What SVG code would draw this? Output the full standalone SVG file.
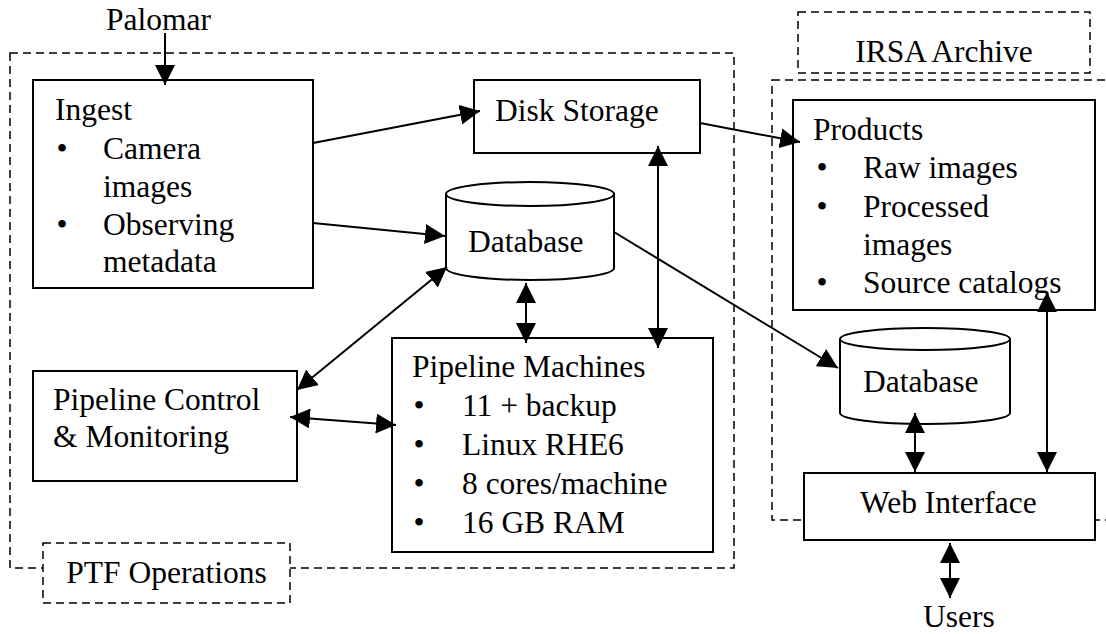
<svg xmlns="http://www.w3.org/2000/svg" width="1106" height="634" viewBox="0 0 1106 634">
<defs>
<marker id="ah" viewBox="0 0 20 20" markerWidth="20" markerHeight="20" refX="20" refY="10" markerUnits="userSpaceOnUse" orient="auto-start-reverse">
<path d="M0,0 L20,10 L0,20 z" fill="#000"/>
</marker>
</defs>
<rect width="1106" height="634" fill="#fff"/>

<g id="boundaries" fill="none" stroke="#000" stroke-width="1.5" stroke-dasharray="8 5">
<rect id="ptf-boundary" x="10" y="53" width="724" height="515"/>
<rect id="irsa-boundary" x="772" y="80" width="360" height="440"/>
</g>

<g id="connectors" fill="none" stroke="#000" stroke-width="2">
<line x1="165" y1="33" x2="165" y2="85" marker-end="url(#ah)"/>
<line x1="313" y1="143" x2="480" y2="111" marker-end="url(#ah)"/>
<line x1="313" y1="223" x2="445" y2="236" marker-end="url(#ah)"/>
<line x1="700" y1="123" x2="800" y2="142" marker-end="url(#ah)"/>
<line x1="614" y1="232" x2="838" y2="368" marker-end="url(#ah)"/>
<line x1="658" y1="146" x2="658" y2="348" marker-start="url(#ah)" marker-end="url(#ah)"/>
<line x1="526" y1="283" x2="526" y2="343" marker-start="url(#ah)" marker-end="url(#ah)"/>
<line x1="447" y1="267" x2="297" y2="390" marker-start="url(#ah)" marker-end="url(#ah)"/>
<line x1="290" y1="417" x2="396" y2="425" marker-start="url(#ah)" marker-end="url(#ah)"/>
<line x1="915" y1="413" x2="915" y2="472" marker-start="url(#ah)" marker-end="url(#ah)"/>
<line x1="1047" y1="292" x2="1047" y2="472" marker-start="url(#ah)" marker-end="url(#ah)"/>
<line x1="950" y1="543" x2="950" y2="598" marker-start="url(#ah)" marker-end="url(#ah)"/>
</g>

<g id="palomar">
<text x="106" y="30" font-family="Liberation Serif" font-size="31.5">Palomar</text>
</g>

<g id="ingest">
<rect x="33" y="80" width="280" height="208" fill="none" stroke="#000" stroke-width="2"/>
<text x="55" y="120" font-family="Liberation Serif" font-size="31.5">Ingest</text>
<text x="62" y="159" font-family="Liberation Serif" font-size="31.5" text-anchor="middle">•</text>
<text x="103" y="159" font-family="Liberation Serif" font-size="31.5">Camera</text>
<text x="103" y="197" font-family="Liberation Serif" font-size="31.5">images</text>
<text x="62" y="235" font-family="Liberation Serif" font-size="31.5" text-anchor="middle">•</text>
<text x="103" y="235" font-family="Liberation Serif" font-size="31.5">Observing</text>
<text x="103" y="272" font-family="Liberation Serif" font-size="31.5">metadata</text>
</g>

<g id="disk-storage">
<rect x="474" y="80" width="226" height="73" fill="none" stroke="#000" stroke-width="2"/>
<text x="495" y="121" font-family="Liberation Serif" font-size="31.5">Disk Storage</text>
</g>

<g id="ptf-database" fill="none" stroke="#000" stroke-width="2">
<path d="M446,194 L446,268 A84,12 0 0 0 614,268 L614,194 A84,12 0 0 0 446,194 Z"/>
<path d="M446,194 A84,12 0 0 0 614,194"/>
<text x="468" y="252" font-family="Liberation Serif" font-size="31.5" fill="#000" stroke="none">Database</text>
</g>

<g id="pipeline-control">
<rect x="33" y="371" width="264" height="110" fill="none" stroke="#000" stroke-width="2"/>
<text x="53" y="410" font-family="Liberation Serif" font-size="31.5">Pipeline Control</text>
<text x="53" y="447" font-family="Liberation Serif" font-size="31.5">&amp; Monitoring</text>
</g>

<g id="pipeline-machines">
<rect x="392" y="338" width="321" height="214" fill="none" stroke="#000" stroke-width="2"/>
<text x="412" y="377" font-family="Liberation Serif" font-size="31.5">Pipeline Machines</text>
<text x="419" y="416" font-family="Liberation Serif" font-size="31.5" text-anchor="middle">•</text>
<text x="462" y="416" font-family="Liberation Serif" font-size="31.5">11 + backup</text>
<text x="419" y="455" font-family="Liberation Serif" font-size="31.5" text-anchor="middle">•</text>
<text x="462" y="455" font-family="Liberation Serif" font-size="31.5">Linux RHE6</text>
<text x="419" y="494" font-family="Liberation Serif" font-size="31.5" text-anchor="middle">•</text>
<text x="462" y="494" font-family="Liberation Serif" font-size="31.5">8 cores/machine</text>
<text x="419" y="533" font-family="Liberation Serif" font-size="31.5" text-anchor="middle">•</text>
<text x="462" y="533" font-family="Liberation Serif" font-size="31.5">16 GB RAM</text>
</g>

<g id="ptf-label">
<rect x="43" y="543" width="247" height="60" fill="#fff" stroke="#000" stroke-width="1.5" stroke-dasharray="8 5"/>
<text x="166.5" y="583" font-family="Liberation Serif" font-size="31.5" text-anchor="middle">PTF Operations</text>
</g>

<g id="irsa-label">
<rect x="798" y="12" width="292" height="61" fill="#fff" stroke="#000" stroke-width="1.5" stroke-dasharray="8 5"/>
<text x="944" y="62" font-family="Liberation Serif" font-size="31.5" text-anchor="middle">IRSA Archive</text>
</g>

<g id="products">
<rect x="793" y="100" width="302" height="210" fill="none" stroke="#000" stroke-width="2"/>
<text x="813" y="140" font-family="Liberation Serif" font-size="31.5">Products</text>
<text x="822" y="178" font-family="Liberation Serif" font-size="31.5" text-anchor="middle">•</text>
<text x="863" y="178" font-family="Liberation Serif" font-size="31.5">Raw images</text>
<text x="822" y="217" font-family="Liberation Serif" font-size="31.5" text-anchor="middle">•</text>
<text x="863" y="217" font-family="Liberation Serif" font-size="31.5">Processed</text>
<text x="863" y="255" font-family="Liberation Serif" font-size="31.5">images</text>
<text x="822" y="293" font-family="Liberation Serif" font-size="31.5" text-anchor="middle">•</text>
<text x="863" y="293" font-family="Liberation Serif" font-size="31.5">Source catalogs</text>
</g>

<g id="irsa-database" fill="none" stroke="#000" stroke-width="2">
<path d="M840,339 L840,413 A85,11 0 0 0 1010,413 L1010,339 A85,11 0 0 0 840,339 Z"/>
<path d="M840,339 A85,11 0 0 0 1010,339"/>
<text x="863" y="392" font-family="Liberation Serif" font-size="31.5" fill="#000" stroke="none">Database</text>
</g>

<g id="web-interface">
<rect x="804" y="473" width="291" height="67" fill="#fff" stroke="#000" stroke-width="2"/>
<text x="860" y="513" font-family="Liberation Serif" font-size="31.5">Web Interface</text>
</g>

<g id="users">
<text x="923" y="627" font-family="Liberation Serif" font-size="31.5">Users</text>
</g>
</svg>
